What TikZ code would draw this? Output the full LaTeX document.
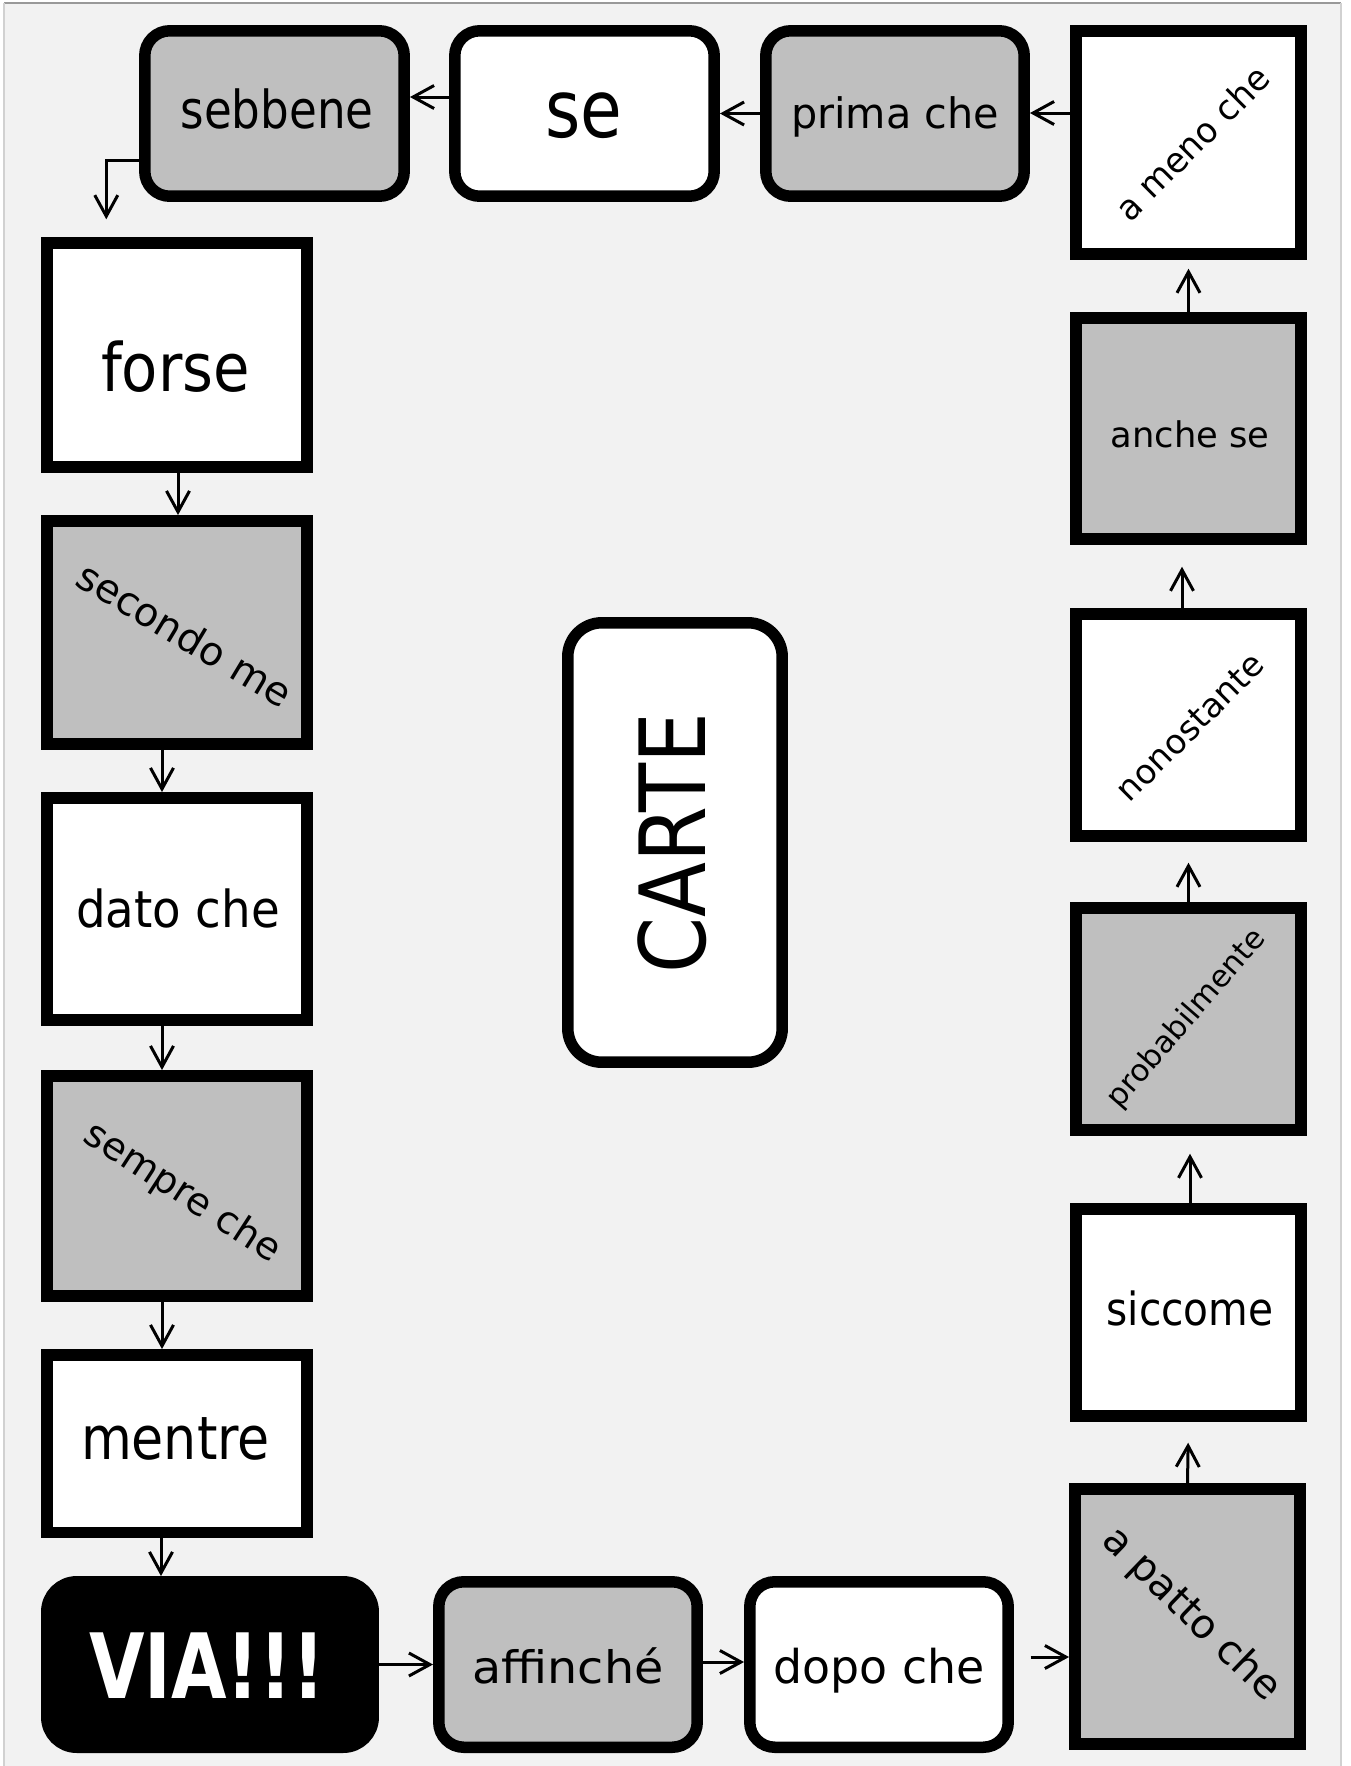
\documentclass[tikz,border=0pt]{standalone}
\usepackage{fontspec}
\setmainfont{DejaVu Sans}
\usepackage{graphicx}
\usetikzlibrary{arrows.meta,calc}
\definecolor{bgc}{HTML}{F2F2F2}
\definecolor{boxg}{HTML}{BFBFBF}
\newcommand\fitw[3]{\resizebox{#2}{\height}{\fontsize{#1}{#1}\selectfont #3}}
\begin{document}
\begin{tikzpicture}[x=0.02cm,y=-0.02cm,
  tile/.style={draw=black,line width=0.23cm,inner sep=0pt,fill=white},
  grey/.style={fill=boxg},
  rnd/.style={rounded corners=0.5cm},
  lbl/.style={inner sep=0pt,text=black},
  arr/.style={draw=black,line width=0.06cm,-{Straight Barb[length=0.42cm,width=0.46cm]}}]
\useasboundingbox (0,0) rectangle (1350,1766);
\fill[white] (0,0) rectangle (1350,1766);
\fill[bgc] (4,3) rectangle (1341,1766);
\draw[black!40,line width=0.04cm] (4,3) -- (1341,3);
\draw[black!18,line width=0.04cm] (4,3) -- (4,1766);
\draw[black!18,line width=0.04cm] (1341,3) -- (1341,1766);

% top row
\node[tile,grey,rnd,minimum width=5.19cm,minimum height=3.31cm] (sebbene) at (274.5,113.5) {};
\node[tile,rnd,minimum width=5.19cm,minimum height=3.31cm] (se) at (584.5,113.5) {};
\node[tile,grey,rnd,minimum width=5.17cm,minimum height=3.31cm] (prima) at (895,113.5) {};
\node[tile,minimum width=4.51cm,minimum height=4.47cm] (meno) at (1188.5,142.5) {};
% left column
\node[tile,minimum width=5.21cm,minimum height=4.49cm] (forse) at (177,355) {};
\node[tile,grey,minimum width=5.21cm,minimum height=4.47cm] (secondo) at (177,632.5) {};
\node[tile,minimum width=5.21cm,minimum height=4.45cm] (dato) at (177,909) {};
\node[tile,grey,minimum width=5.21cm,minimum height=4.41cm] (sempre) at (177,1186) {};
\node[tile,minimum width=5.21cm,minimum height=3.55cm] (mentre) at (177,1443.5) {};
% bottom row
\node[tile,fill=black,rounded corners=0.6cm,minimum width=6.53cm,minimum height=3.31cm] (via) at (210,1664.5) {};
\node[tile,grey,rnd,minimum width=5.17cm,minimum height=3.31cm] (aff) at (568,1664.5) {};
\node[tile,rnd,minimum width=5.17cm,minimum height=3.31cm] (dopo) at (879,1664.5) {};
\node[tile,grey,minimum width=4.51cm,minimum height=5.11cm] (patto) at (1187.5,1616.5) {};
% right column
\node[tile,minimum width=4.51cm,minimum height=4.15cm] (siccome) at (1188.5,1312.5) {};
\node[tile,grey,minimum width=4.51cm,minimum height=4.45cm] (prob) at (1188.5,1019) {};
\node[tile,minimum width=4.51cm,minimum height=4.45cm] (nono) at (1188.5,725) {};
\node[tile,grey,minimum width=4.51cm,minimum height=4.43cm] (anche) at (1188.5,428.5) {};
% centre
\node[tile,rounded corners=0.68cm,minimum width=4.29cm,minimum height=8.79cm] (carte) at (675,842.5) {};

% labels
\node[lbl,anchor=base] (t-sebbene) at (277,128) {\fitw{29.8pt}{3.86cm}{sebbene}};
\node[lbl,anchor=base] (t-se) at (584,137) {\fitw{45.5pt}{1.54cm}{se}};
\node[lbl,anchor=base] (t-prima) at (895,128) {\fitw{23.9pt}{4.16cm}{prima che}};
\node[lbl,rotate=45] (t-meno) at (1192,143) {\fitw{19.8pt}{4.02cm}{a meno che}};
\node[lbl,anchor=base] (t-anche) at (1190,447) {\fitw{20.1pt}{3.18cm}{anche se}};
\node[lbl,rotate=45] (t-nono) at (1190,727) {\fitw{19.1pt}{3.86cm}{nonostante}};
\node[lbl,rotate=49] (t-prob) at (1187,1019) {\fitw{17.2pt}{4.5cm}{probabilmente}};
\node[lbl,anchor=base] (t-siccome) at (1190,1325) {\fitw{26pt}{3.34cm}{siccome}};
\node[lbl,rotate=-44] (t-patto) at (1191,1615) {\fitw{22.8pt}{4.62cm}{a patto che}};
\node[lbl,anchor=base] (t-dopo) at (879,1683) {\fitw{26.5pt}{4.22cm}{dopo che}};
\node[lbl,anchor=base] (t-aff) at (568,1683) {\fitw{25.5pt}{3.82cm}{affinché}};
\node[lbl,anchor=base,text=white] (t-via) at (207,1698) {\fitw{51.3pt}{4.72cm}{\bfseries VIA!!!}};
\node[lbl,anchor=base] (t-mentre) at (175.5,1459) {\fitw{34pt}{3.78cm}{mentre}};
\node[lbl,rotate=-33] (t-sempre) at (182,1193) {\fitw{21.6pt}{4.52cm}{sempre che}};
\node[lbl,anchor=base] (t-dato) at (178,927) {\fitw{29pt}{4.08cm}{dato che}};
\node[lbl,rotate=-31] (t-secondo) at (185,634) {\fitw{22.5pt}{4.86cm}{secondo me}};
\node[lbl,anchor=base] (t-forse) at (175.5,391) {\fitw{38pt}{2.98cm}{forse}};
\node[lbl,rotate=90] (t-carte) at (672,843) {\fitw{52pt}{5.22cm}{CARTE}};

% connectors
\draw[arr] ($(se.west)+(0,-16.5)$) -- ($(sebbene.east)+(0,-16.5)$);
\draw[arr] (prima.west) -- (se.east);
\draw[arr] ($(meno.west)+(0,-29.5)$) coordinate (m0) -- (m0 -| prima.east);
\draw[arr,shorten >=0.355cm] ($(sebbene.west)+(0,46.5)$) -| ($(forse.north west)+(65.25,0)$);
\draw[arr] ($(forse.south)+(1,0)$) coordinate (f0) -- (f0 |- secondo.north);
\draw[arr] ($(secondo.south)+(-15,0)$) coordinate (s0) -- (s0 |- dato.north);
\draw[arr] ($(dato.south)+(-15,0)$) coordinate (d0) -- (d0 |- sempre.north);
\draw[arr] ($(sempre.south)+(-15,0)$) coordinate (e0) -- (e0 |- mentre.north);
\draw[arr] ($(mentre.south)+(-16,0)$) coordinate (n0) -- (n0 |- via.north);
\draw[arr] (via.east) -- (aff.west);
\draw[arr] ($(aff.east)+(0,-2.5)$) coordinate (a0) -- (a0 -| dopo.west);
\draw[arr,shorten <=0.335cm] ($(dopo.east)+(0,-7.5)$) coordinate (p0) -- (p0 -| patto.west);
\draw[arr,shorten >=0.415cm] (patto.north) -- (siccome.south);
\draw[arr,shorten >=0.355cm] ($(siccome.north)+(1.5,0)$) coordinate (c0) -- (c0 |- prob.south);
\draw[arr,shorten >=0.415cm] (prob.north) -- (nono.south);
\draw[arr,shorten >=0.435cm] ($(nono.north)+(-6.5,0)$) coordinate (o0) -- (o0 |- anche.south);
\draw[arr,shorten >=0.175cm] (anche.north) -- (meno.south);
\end{tikzpicture}
\end{document}
